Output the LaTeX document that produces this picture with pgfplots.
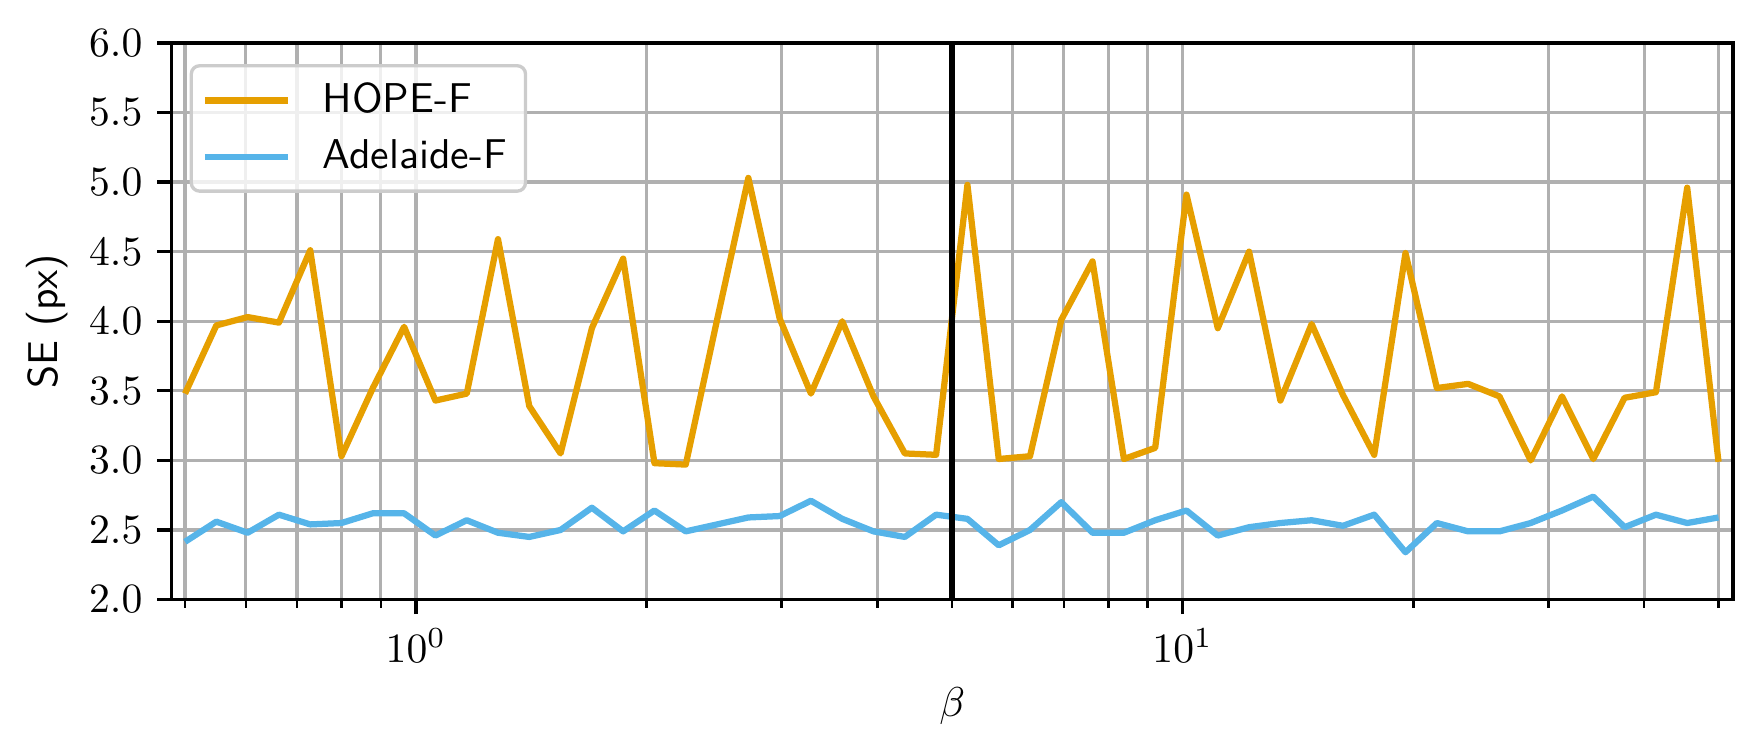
\documentclass[border=0pt]{standalone}
\usepackage{pgfplots}
\pgfplotsset{compat=1.18}
\usepackage{pgfplotstable}

\definecolor{hope}{HTML}{E69F00}
\definecolor{adel}{HTML}{56B4E9}
\definecolor{gridgray}{HTML}{B0B0B0}

% beta, SE of HOPE-F, SE of Adelaide-F
\pgfplotstableread{
beta    hope  adel
0.5     3.48  2.415
0.5493  3.97  2.56
0.6034  4.03  2.48
0.6629  3.99  2.61
0.7282  4.51  2.54
0.7999  3.03  2.55
0.8788  3.52  2.62
0.9653  3.96  2.62
1.0605  3.43  2.46
1.1652  3.48  2.57
1.2798  4.59  2.48
1.4059  3.39  2.45
1.5444  3.05  2.50
1.6966  3.95  2.66
1.8638  4.45  2.49
2.0474  2.98  2.64
2.2492  2.97  2.49
2.4709  4.01  2.54
2.7143  5.03  2.59
2.9818  4.02  2.60
3.2757  3.48  2.71
3.5984  4.00  2.58
3.9530  3.46  2.49
4.3426  3.05  2.45
4.7705  3.04  2.61
5.2406  4.98  2.58
5.7570  3.01  2.39
6.3243  3.03  2.50
6.9474  4.01  2.70
7.6321  4.43  2.48
8.3842  3.01  2.48
9.2103  3.09  2.57
10.118  4.91  2.64
11.115  3.95  2.46
12.210  4.50  2.52
13.414  3.43  2.55
14.735  3.98  2.57
16.187  3.47  2.53
17.782  3.04  2.61
19.535  4.49  2.34
21.460  3.52  2.55
23.574  3.55  2.49
25.898  3.46  2.49
28.449  3.00  2.55
31.253  3.46  2.64
34.332  3.01  2.74
37.716  3.45  2.52
41.432  3.49  2.61
45.515  4.96  2.55
50.0    2.99  2.59
}\setable

\begin{document}
\begin{tikzpicture}
\begin{axis}[
  set layers,
  scale only axis,
  width=374.7pt, height=133.6pt,
  xmode=log,
  xmin=0.4803, xmax=52.2,
  ymin=2, ymax=6,
  xtick={1,10},
  minor xtick={0.5,0.6,0.7,0.8,0.9,2,3,4,5,6,7,8,9,20,30,40,50},
  ytick={2,2.5,3,3.5,4,4.5,5,5.5,6},
  yticklabel style={/pgf/number format/.cd, fixed, fixed zerofill, precision=1},
  grid=both,
  major grid style={gridgray, line width=0.8pt},
  minor grid style={gridgray, line width=0.8pt},
  axis line style={line width=0.8pt},
  tick align=outside,
  tick pos=left,
  major tick length=3.5pt,
  minor tick length=2pt,
  tick style={black, line width=0.8pt},
  minor tick style={black, line width=0.6pt},
  xlabel={$\beta$},
  ylabel={\textsf{SE (px)}},
  xlabel style={at={(axis description cs:0.5,-0.191)}, anchor=center},
  ylabel style={at={(axis description cs:-0.0798,0.5)}, anchor=center},
  legend cell align=left,
  legend image code/.code={\draw[#1] (0pt,0pt) -- (20pt,0pt);},
  legend style={
    at={(0.0115,0.962)}, anchor=north west,
    font=\sffamily,
    draw=black!20, line width=0.8pt,
    rounded corners=2pt,
    fill=white, fill opacity=0.8, text opacity=1,
    inner xsep=2.5pt, inner ysep=2pt,
    row sep=1pt,
    /tikz/every odd column/.append style={column sep=5.5pt},
  },
]
\addplot[hope, line width=1.5pt, line join=round] table[x=beta, y=hope] {\setable};
\addplot[adel, line width=1.5pt, line join=round] table[x=beta, y=adel] {\setable};
\addplot[black, line width=1.5pt, forget plot] coordinates {(5,2) (5,6)};
\legend{HOPE-F, Adelaide-F}
\end{axis}
\pgfresetboundingbox
\path[use as bounding box]
  ([xshift=-41.2pt, yshift=-35.9pt]current axis.south west)
  rectangle ([xshift=7pt, yshift=10.3pt]current axis.north east);
\end{tikzpicture}
\end{document}
